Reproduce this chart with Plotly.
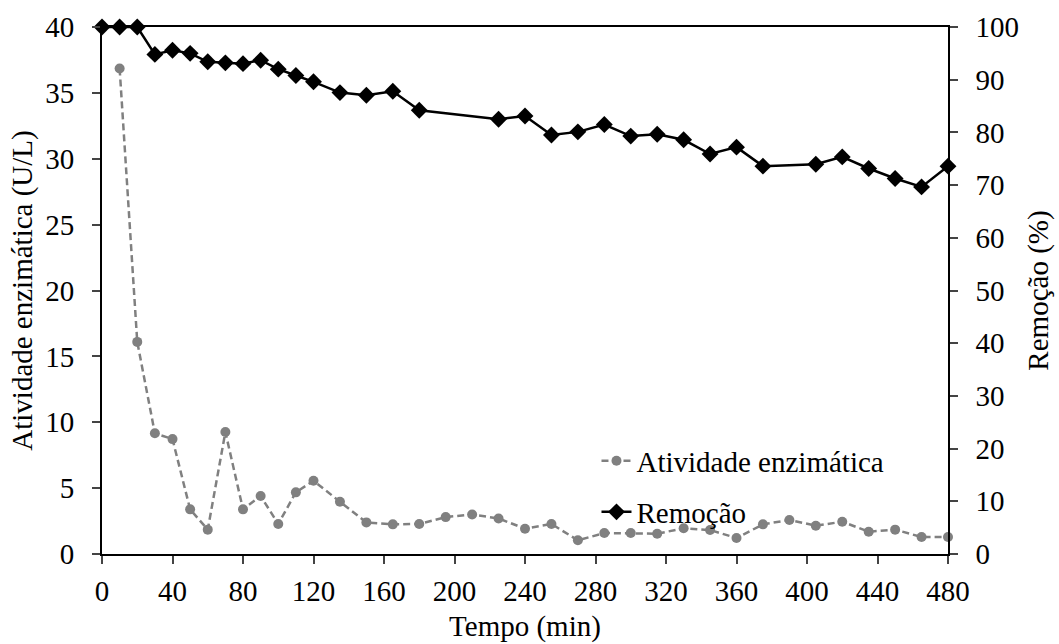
import plotly.graph_objects as go

# Data
tempo_atividade = [10, 20, 30, 40, 50, 60, 70, 80, 90, 100, 110, 120, 135, 150, 165, 180,
                   195, 210, 225, 240, 255, 270, 285, 300, 315, 330, 345, 360, 375, 390,
                   405, 420, 435, 450, 465, 480]
atividade = [36.85, 16.1, 9.16, 8.72, 3.39, 1.85, 9.26, 3.39, 4.4, 2.28, 4.68, 5.56, 3.97,
             2.4, 2.25, 2.28, 2.8, 3.0, 2.7, 1.92, 2.28, 1.04, 1.59, 1.59, 1.54, 1.95,
             1.82, 1.21, 2.25, 2.58, 2.15, 2.45, 1.69, 1.85, 1.29, 1.29]

tempo_remocao = [0, 10, 20, 30, 40, 50, 60, 70, 80, 90, 100, 110, 120, 135, 150, 165, 180,
                 225, 240, 255, 270, 285, 300, 315, 330, 345, 360, 375, 405, 420, 435, 450,
                 465, 480]
remocao = [100, 100, 100, 94.8, 95.6, 95.0, 93.4, 93.2, 93.05, 93.7, 92.0, 90.8, 89.6,
           87.55, 87.05, 87.8, 84.2, 82.5, 83.1, 79.5, 80.1, 81.5, 79.3, 79.65, 78.6,
           75.9, 77.2, 73.6, 73.96, 75.35, 73.15, 71.25, 69.66, 73.6]

x_ticks = list(range(0, 481, 40))
y_ticks = list(range(0, 41, 5))
y2_ticks = list(range(0, 101, 10))

FONT = "Liberation Serif, Times New Roman, serif"
FS = 29

fig = go.Figure()
fig.add_trace(go.Scatter(
    x=tempo_atividade, y=atividade, name="Atividade enzimática",
    mode="lines+markers",
    line=dict(color="#808080", width=2.5, dash="7px,4px"),
    marker=dict(symbol="circle", size=10, color="#808080"),
    cliponaxis=False, legend="legend",
))
fig.add_trace(go.Scatter(
    x=tempo_remocao, y=remocao, name="Remoção", yaxis="y2",
    mode="lines+markers",
    line=dict(color="black", width=2.5),
    marker=dict(symbol="diamond", size=13, color="black"),
    cliponaxis=False, legend="legend2",
))

fig.update_layout(
    width=1059, height=644,
    margin=dict(l=102, r=111, t=27, b=90, autoexpand=False),
    paper_bgcolor="white", plot_bgcolor="white",
    font=dict(family=FONT, size=FS, color="black"),
    showlegend=True,
    xaxis=dict(
        range=[0, 480], tickvals=x_ticks, ticks="outside", ticklen=8, tickwidth=1.5,
        ticklabelstandoff=2, automargin=False,
        showgrid=False, zeroline=False, showline=True, linecolor="black", linewidth=2,
        mirror=True,
        title=dict(text="Tempo (min)", standoff=10, font=dict(size=FS)),
        tickfont=dict(size=FS),
    ),
    yaxis=dict(
        range=[0, 40], tickvals=y_ticks, ticks="outside", ticklen=8, tickwidth=1.5,
        ticklabelstandoff=12, automargin=False,
        showgrid=False, zeroline=False, showline=True, linecolor="black", linewidth=2,
        title=dict(text="Atividade enzimática (U/L)", standoff=4, font=dict(size=FS)),
        tickfont=dict(size=FS),
    ),
    yaxis2=dict(
        range=[0, 100], tickvals=y2_ticks, ticks="outside", ticklen=8, tickwidth=1.5,
        ticklabelstandoff=12, automargin=False,
        overlaying="y", side="right",
        showgrid=False, zeroline=False, showline=True, linecolor="black", linewidth=1.5,
        title=dict(text="Remoção (%)", standoff=10, font=dict(size=FS)),
        tickfont=dict(size=FS),
    ),
    legend=dict(x=0.5845, y=0.1765, xanchor="left", yanchor="middle",
                bgcolor="rgba(0,0,0,0)", font=dict(size=FS)),
    legend2=dict(x=0.5845, y=0.0797, xanchor="left", yanchor="middle",
                 bgcolor="rgba(0,0,0,0)", font=dict(size=FS)),
)

fig.write_html("out.html")
